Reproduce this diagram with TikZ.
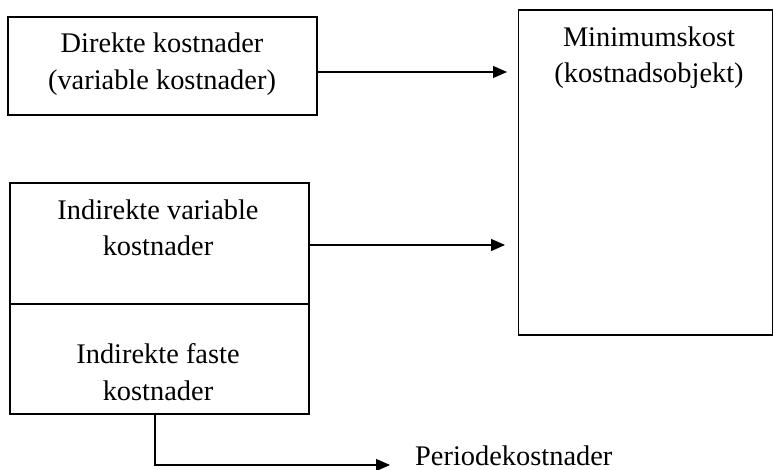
\documentclass[tikz,border=0pt]{standalone}
\usepackage{fontspec}
\setmainfont{Liberation Serif}
\usetikzlibrary{arrows.meta}
\begin{document}
\begin{tikzpicture}[x=1pt,y=-1pt,
  box/.style={draw, line width=1.2pt, inner sep=0pt},
  lbl/.style={inner sep=0pt, anchor=base, font=\fontsize{28.4}{36}\selectfont},
  arr/.style={line width=1.2pt, -{Triangle[length=14pt,width=12pt]}}]
\useasboundingbox (0,0) rectangle (774,470);
% boxes
\node[box, minimum width=309pt, minimum height=98pt] (d) at (162.5,66) {};
\node[box, minimum width=254pt, minimum height=325pt] (m) at (645.5,172.5) {};
\node[box, minimum width=299pt, minimum height=121pt] (iv) at (159.5,243.5) {};
\node[box, minimum width=299pt, minimum height=110pt] (if) at (159.5,359) {};
% labels
\node[lbl] (d1) at (162,53) {Direkte kostnader};
\node[lbl] (d2) at (162,90) {(variable kostnader)};
\node[lbl] (m1) at (649,47) {Minimumskost};
\node[lbl] (m2) at (649,83) {(kostnadsobjekt)};
\node[lbl] (iv1) at (158,220) {Indirekte variable};
\node[lbl] (iv2) at (158,256) {kostnader};
\node[lbl] (if1) at (158,363) {Indirekte faste};
\node[lbl] (if2) at (158,400) {kostnader};
\node[lbl, anchor=base west] (p) at (415,465) {Periodekostnader};
% connectors
\coordinate (e1) at (507,72);
\coordinate (e2) at (505,245);
\coordinate (e3) at (390,465);
\draw[arr] (d.east |- e1) -- (e1);
\draw[arr] (iv.east |- e2) -- (e2);
\draw[arr] ([xshift=-4.5pt]if.south) |- (e3);
\end{tikzpicture}
\end{document}
